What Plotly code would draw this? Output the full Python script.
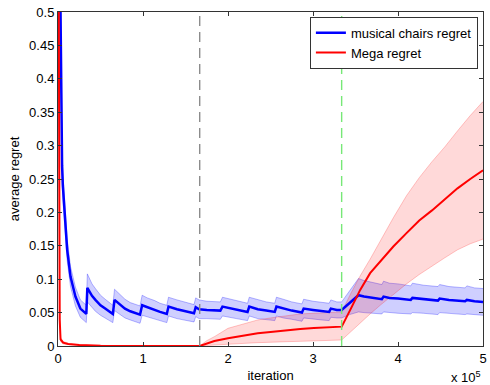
import plotly.graph_objects as go

# ---------------- data (x in units of 10^5 iterations) ----------------
blue_x = [0.02, 0.03, 0.034, 0.038, 0.042, 0.048, 0.057, 0.08, 0.108, 0.147, 0.205, 0.263, 0.322, 0.333,
          0.345, 0.40, 0.44, 0.50, 0.555, 0.60, 0.645,
          0.665, 0.72, 0.788, 0.85, 0.90, 0.965,
          0.99, 1.05, 1.137, 1.20, 1.28,
          1.30, 1.40, 1.50, 1.60,
          1.62, 1.66, 1.75, 1.91,
          1.935, 2.0, 2.1, 2.23,
          2.25, 2.35, 2.45, 2.55,
          2.57, 2.65, 2.75, 2.87,
          2.89, 3.0, 3.1, 3.19,
          3.21, 3.28, 3.337,
          3.43, 3.535, 3.6, 3.7, 3.81,
          3.83, 3.9, 4.0, 4.15,
          4.17, 4.3, 4.47,
          4.49, 4.6, 4.79,
          4.81, 4.9, 5.0]
blue_y = [0.62, 0.50, 0.45, 0.37, 0.31, 0.27, 0.24, 0.194, 0.144, 0.104, 0.074, 0.056, 0.049, 0.048,
          0.087, 0.075, 0.069, 0.061, 0.056, 0.052, 0.048,
          0.069, 0.063, 0.056, 0.052, 0.050, 0.047,
          0.061, 0.058, 0.054, 0.051, 0.048,
          0.059, 0.055, 0.052, 0.049,
          0.058, 0.055, 0.054, 0.053,
          0.059, 0.057, 0.054, 0.051,
          0.059, 0.055, 0.053, 0.051,
          0.059, 0.056, 0.053, 0.050,
          0.056, 0.054, 0.052, 0.051,
          0.056, 0.054, 0.054,
          0.065, 0.076, 0.074, 0.072, 0.070,
          0.074, 0.072, 0.071, 0.069,
          0.072, 0.070, 0.068,
          0.071, 0.069, 0.067,
          0.069, 0.067, 0.066]
blue_sd = [0.04, 0.035, 0.03, 0.028, 0.025, 0.022, 0.02, 0.018, 0.016, 0.015, 0.014, 0.013, 0.013, 0.013,
           0.021, 0.018, 0.017, 0.015, 0.014, 0.013, 0.013,
           0.016, 0.015, 0.014, 0.013, 0.013, 0.013,
           0.015, 0.014, 0.014, 0.013, 0.013,
           0.014, 0.014, 0.013, 0.013,
           0.014, 0.014, 0.013, 0.013,
           0.014, 0.014, 0.013, 0.013,
           0.014, 0.014, 0.013, 0.013,
           0.014, 0.014, 0.013, 0.013,
           0.014, 0.013, 0.013, 0.013,
           0.013, 0.012, 0.012,
           0.018, 0.025, 0.024, 0.023, 0.022,
           0.023, 0.022, 0.022, 0.021,
           0.022, 0.021, 0.021,
           0.021, 0.020, 0.020,
           0.021, 0.020, 0.020]

red_x = [0.0, 0.012, 0.016, 0.02, 0.03, 0.06, 0.12, 0.25, 0.5, 0.8,
         1.2, 1.667, 1.75, 1.84, 2.0, 2.2, 2.35, 2.5, 2.7, 2.85,
         3.01, 3.2, 3.338, 3.45, 3.555, 3.672, 3.8, 3.945, 4.1, 4.25,
         4.4, 4.55, 4.7, 4.85, 5.0]
red_y = [0.9, 0.5, 0.2, 0.04, 0.01, 0.005, 0.003, 0.0015, 0.0005, 0.0,
         0.0, 0.0, 0.004, 0.0075, 0.0115, 0.016, 0.019, 0.021, 0.024, 0.0255,
         0.027, 0.028, 0.029, 0.057, 0.084, 0.109, 0.128, 0.149, 0.169, 0.188,
         0.203, 0.219, 0.236, 0.250, 0.263]
red_hi = [0.9, 0.5, 0.2, 0.045, 0.013, 0.007, 0.004, 0.002, 0.001, 0.0,
          0.0, 0.0, 0.008, 0.014, 0.0265, 0.033, 0.039, 0.042, 0.046, 0.048,
          0.049, 0.050, 0.051, 0.08, 0.105, 0.13, 0.16, 0.192, 0.225, 0.252,
          0.276, 0.298, 0.322, 0.345, 0.366]
red_lo = [0.9, 0.5, 0.2, 0.035, 0.007, 0.003, 0.002, 0.001, 0.0, 0.0,
          0.0, 0.0, 0.0008, 0.0015, 0.003, 0.004, 0.005, 0.006, 0.0065, 0.007,
          0.008, 0.0085, 0.009, 0.022, 0.035, 0.048, 0.062, 0.077, 0.093, 0.107,
          0.12, 0.132, 0.144, 0.153, 0.16]

phase_boundaries = [1.667, 3.337]
x_ticks = [0, 1, 2, 3, 4, 5]
x_tick_labels = ["0", "1", "2", "3", "4", "5"]
y_ticks = [0, 0.05, 0.1, 0.15, 0.2, 0.25, 0.3, 0.35, 0.4, 0.45, 0.5]
y_tick_labels = ["0", "0.05", "0.1", "0.15", "0.2", "0.25", "0.3", "0.35", "0.4", "0.45", "0.5"]

FONT = "Liberation Sans, Arial, Helvetica, sans-serif"

blue_lo = [m - s for m, s in zip(blue_y, blue_sd)]
blue_hi = [m + s for m, s in zip(blue_y, blue_sd)]

fig = go.Figure()
# blue band
fig.add_trace(go.Scatter(x=blue_x, y=blue_lo, mode="lines",
                         line=dict(color="rgba(0,0,255,0.28)", width=1),
                         showlegend=False, hoverinfo="skip"))
fig.add_trace(go.Scatter(x=blue_x, y=blue_hi, mode="lines",
                         line=dict(color="rgba(0,0,255,0.28)", width=1),
                         fill="tonexty", fillcolor="rgba(0,0,255,0.19)",
                         showlegend=False, hoverinfo="skip"))
# red band
fig.add_trace(go.Scatter(x=red_x, y=red_lo, mode="lines",
                         line=dict(color="rgba(255,0,0,0.22)", width=1),
                         showlegend=False, hoverinfo="skip"))
fig.add_trace(go.Scatter(x=red_x, y=red_hi, mode="lines",
                         line=dict(color="rgba(255,0,0,0.22)", width=1),
                         fill="tonexty", fillcolor="rgba(255,0,0,0.15)",
                         showlegend=False, hoverinfo="skip"))
# mean lines
fig.add_trace(go.Scatter(x=blue_x, y=blue_y, mode="lines", name="musical chairs regret",
                         line=dict(color="#0000ff", width=2.5)))
fig.add_trace(go.Scatter(x=red_x, y=red_y, mode="lines", name="Mega regret",
                         line=dict(color="#ff0000", width=2)))

vline_colors = ["#8c8c8c", "#77e877"]
for xb, c in zip(phase_boundaries, vline_colors):
    fig.add_vline(x=xb, line=dict(color=c, width=1.4, dash="10px,6px"), layer="above")

fig.add_annotation(text="x 10<sup>5</sup>", xref="paper", yref="paper", x=1.0, y=-0.122,
                   xanchor="right", yanchor="bottom", showarrow=False,
                   font=dict(family=FONT, size=13, color="black"))

axis_common = dict(showline=True, mirror="ticks", linecolor="#333333", linewidth=1,
                   ticks="inside", ticklen=4, tickcolor="#333333", showgrid=False,
                   zeroline=False, ticklabeloverflow="allow",
                   tickfont=dict(family=FONT, size=13, color="black"))

fig.update_layout(
    width=490, height=385,
    margin=dict(l=58, r=3, t=12, b=39),
    paper_bgcolor="white", plot_bgcolor="white",
    font=dict(family=FONT, size=13, color="black"),
    xaxis=dict(range=[0, 5], tickvals=x_ticks, ticktext=x_tick_labels,
               title=dict(text="iteration", font=dict(family=FONT, size=13), standoff=6),
               **axis_common),
    yaxis=dict(range=[0, 0.5], tickvals=y_ticks, ticktext=y_tick_labels,
               title=dict(text="average regret", font=dict(family=FONT, size=13), standoff=6),
               **axis_common),
    legend=dict(x=0.988, y=0.986, xanchor="right", yanchor="top",
                bgcolor="white", bordercolor="#333333", borderwidth=1,
                font=dict(family=FONT, size=13, color="black"),
                traceorder="normal", tracegroupgap=0),
)

fig.write_html("out.html", config={"displayModeBar": False},
               post_script="document.body.style.margin='0';document.body.style.overflow='hidden';")
